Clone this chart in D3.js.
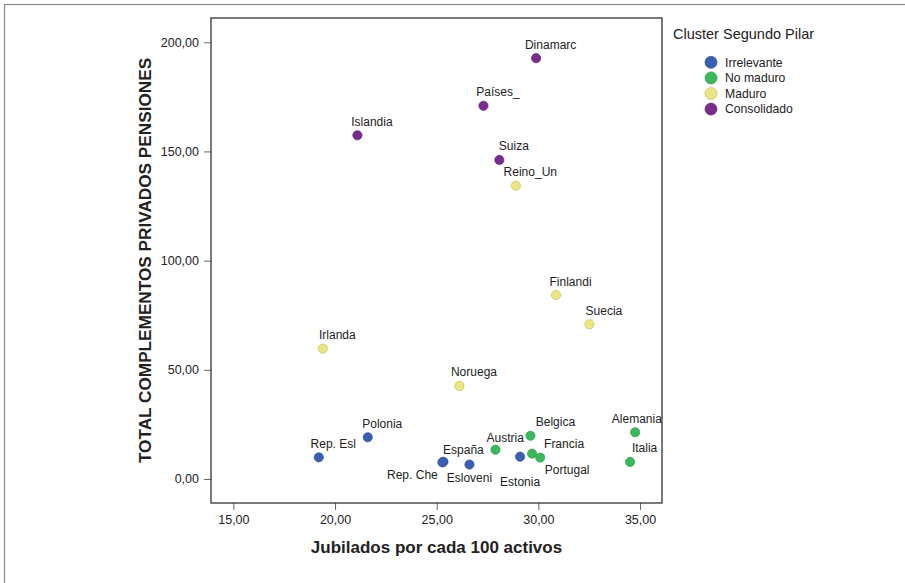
<!DOCTYPE html>
<html><head><meta charset="utf-8">
<script src="https://cdn.jsdelivr.net/npm/d3@7"></script>
<style>
html,body{margin:0;padding:0;background:#fff;}
svg{display:block;font-family:"Liberation Sans",Arial,sans-serif;}
</style></head>
<body><svg id="chart" width="905" height="583"></svg>
<script>
// ---- data ----
const countries = ["Dinamarc","Países_","Islandia","Suiza","Reino_Un","Finlandi","Suecia","Irlanda","Noruega",
  "Rep. Esl","Polonia","España","Rep. Che","Esloveni","Estonia",
  "Austria","Belgica","Francia","Portugal","Alemania","Italia"];
const jubilados = [29.89,27.30,21.10,28.08,28.89,30.87,32.51,19.40,26.12,
  19.20,21.61,25.33,25.28,26.61,29.10,
  27.89,29.61,29.69,30.09,34.76,34.51];
const complementos = [192.7,170.9,157.4,146.1,134.3,84.2,70.8,59.7,42.6,
  9.9,19.1,7.9,7.6,6.6,10.2,
  13.4,19.8,11.6,9.8,21.4,7.8];
const clusters = ["Consolidado","Consolidado","Consolidado","Consolidado","Maduro","Maduro","Maduro","Maduro","Maduro",
  "Irrelevante","Irrelevante","Irrelevante","Irrelevante","Irrelevante","Irrelevante",
  "No maduro","No maduro","No maduro","No maduro","No maduro","No maduro"];
const clusterNames = ["Irrelevante","No maduro","Maduro","Consolidado"];
const xTicks = [15,20,25,30,35];
const yTicks = [0,50,100,150,200];

// ---- layout/style ----
const fills = {"Irrelevante":"#3a5fb0","No maduro":"#3cb85c","Maduro":"#ebe684","Consolidado":"#7a2c8e"};
const strokes = {"Irrelevante":"#2f4f96","No maduro":"#2f9a4a","Maduro":"#c4bd5a","Consolidado":"#632375"};
const labelOffset = {"España":[20,-8],"Rep. Che":[-30,17],"Esloveni":[0,17],"Estonia":[0,29],
  "Austria":[9.7,-8],"Belgica":[25,-9.7],"Francia":[32,-6],"Portugal":[27,16],"Alemania":[1.7,-9]};
const defaultOffset = [14.5,-9.5];

const svg = d3.select("#chart");
const L=211, R=662, T=18, B=503;
const x = d3.scaleLinear().domain([13.9,36.08]).range([L,R]);
const y = d3.scaleLinear().domain([-11.0,211.1]).range([B,T]);
const fmt = v => d3.format(".2f")(v).replace(".",",");

// outer frame (right/bottom clipped like the original)
svg.append("rect").attr("x",4.5).attr("y",4.5).attr("width",920).attr("height",600)
  .attr("fill","none").attr("stroke","#8a8a8a").attr("stroke-width",1.2);

// axes
const yAxis = svg.append("g").attr("transform",`translate(${L},0)`)
  .call(d3.axisLeft(y).tickValues(yTicks).tickFormat(fmt).tickSize(7).tickPadding(5));
const xAxis = svg.append("g").attr("transform",`translate(0,${B})`)
  .call(d3.axisBottom(x).tickValues(xTicks).tickFormat(fmt).tickSize(7).tickPadding(5));
[yAxis,xAxis].forEach(g=>{
  g.select(".domain").remove();
  g.selectAll(".tick line").attr("stroke","#666");
  g.selectAll(".tick text").attr("font-size","12.5px").attr("fill","#222")
   .attr("font-family","'Liberation Sans',Arial,sans-serif");
});

// plot box
svg.append("rect").attr("x",L).attr("y",T).attr("width",R-L).attr("height",B-T)
  .attr("fill","none").attr("stroke","#333").attr("stroke-width",1.3);

// axis titles
svg.append("text").attr("x",(L+R)/2).attr("y",553).attr("text-anchor","middle")
  .attr("font-size","17px").attr("font-weight","bold").attr("fill","#222")
  .text("Jubilados por cada 100 activos");
svg.append("text").attr("transform",`translate(151,${(T+B)/2}) rotate(-90)`).attr("text-anchor","middle")
  .attr("font-size","17.2px").attr("font-weight","bold").attr("fill","#222")
  .text("TOTAL COMPLEMENTOS PRIVADOS PENSIONES");

// points
const data = countries.map((c,i)=>({c, xv:jubilados[i], yv:complementos[i], k:clusters[i]}));
svg.append("g").selectAll("circle").data(data).join("circle")
  .attr("cx",d=>x(d.xv)).attr("cy",d=>y(d.yv)).attr("r",4.6)
  .attr("fill",d=>fills[d.k]).attr("stroke",d=>strokes[d.k]).attr("stroke-width",0.7);

// labels
svg.append("g").selectAll("text").data(data).join("text")
  .attr("x",d=>x(d.xv)+(labelOffset[d.c]||defaultOffset)[0])
  .attr("y",d=>y(d.yv)+(labelOffset[d.c]||defaultOffset)[1])
  .attr("text-anchor","middle").attr("font-size","12px").attr("fill","#222")
  .text(d=>d.c);

// legend
const lg = svg.append("g");
lg.append("text").attr("x",673).attr("y",39).attr("font-size","14.5px").attr("fill","#222").text("Cluster Segundo Pilar");
const items = lg.selectAll("g.item").data(clusterNames).join("g").attr("class","item")
  .attr("transform",(d,i)=>`translate(711,${62.3+i*15.6})`);
items.append("circle").attr("r",6).attr("fill",d=>fills[d]).attr("stroke",d=>strokes[d]).attr("stroke-width",0.7);
items.append("text").attr("x",14).attr("y",4.3).attr("font-size","12.2px").attr("fill","#222").text(d=>d);
</script></body></html>
